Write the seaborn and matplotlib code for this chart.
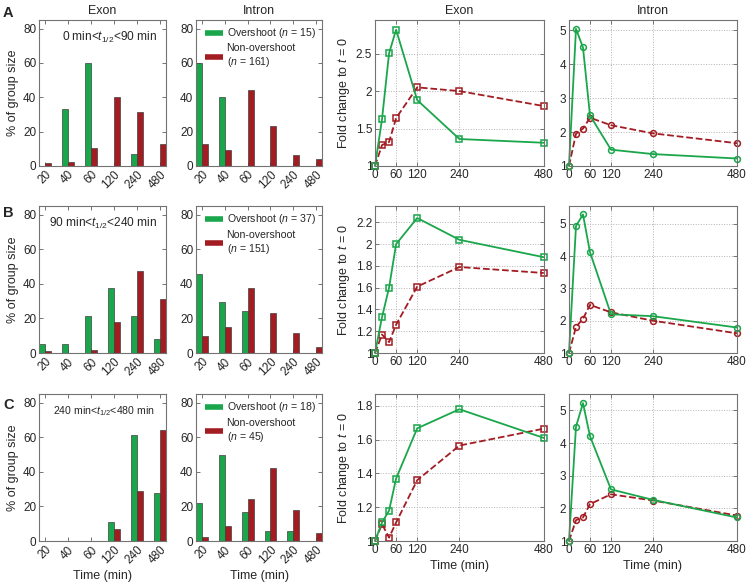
import numpy as np
import pandas as pd
import matplotlib
matplotlib.use('Agg')
import matplotlib.pyplot as plt
from matplotlib.lines import Line2D
from matplotlib.ticker import FuncFormatter
import seaborn as sns

sns.set_style('white')
plt.rcParams['font.family'] = ['Liberation Sans', 'DejaVu Sans']
plt.rcParams['mathtext.fontset'] = 'custom'
plt.rcParams['mathtext.rm'] = 'Liberation Sans'
plt.rcParams['mathtext.it'] = 'Liberation Sans:italic'

GREEN = '#1aa64b'
RED = '#a21c22'

# half-life bins (bar charts) and time points (line charts)
bins = ['20', '40', '60', '120', '240', '480']
times = [0, 20, 40, 60, 120, 240, 480]

# % of group size per bin
a_exon_over = [0, 33.3, 60.0, 0, 6.7, 0]
a_exon_non = [1.9, 2.5, 10.6, 40.4, 31.7, 13.0]
a_intron_over = [60.0, 40.0, 0, 0, 0, 0]
a_intron_non = [13.0, 9.3, 44.1, 23.0, 6.2, 4.3]
b_exon_over = [5.4, 5.4, 21.6, 37.8, 21.6, 8.1]
b_exon_non = [1.3, 0, 2.0, 17.9, 47.7, 31.1]
b_intron_over = [45.9, 29.7, 24.3, 0, 0, 0]
b_intron_non = [9.9, 15.2, 37.7, 23.2, 11.3, 3.5]
c_exon_over = [0, 0, 0, 11.1, 61.1, 27.8]
c_exon_non = [0, 0, 0, 6.7, 28.9, 64.4]
c_intron_over = [22.2, 50.0, 16.7, 5.6, 5.6, 0]
c_intron_non = [2.2, 8.9, 24.4, 42.2, 17.8, 4.4]

# fold change to t=0
fa_exon_over = [1.0, 1.625, 2.505, 2.82, 1.88, 1.36, 1.31]
fa_exon_non = [1.0, 1.28, 1.32, 1.64, 2.05, 2.0, 1.80]
fa_intron_over = [1.0, 5.04, 4.49, 2.49, 1.48, 1.35, 1.22]
fa_intron_non = [1.0, 1.95, 2.1, 2.42, 2.2, 1.96, 1.67]
fb_exon_over = [1.0, 1.33, 1.60, 2.0, 2.24, 2.04, 1.88]
fb_exon_non = [1.0, 1.17, 1.10, 1.26, 1.61, 1.79, 1.735]
fb_intron_over = [1.0, 4.93, 5.29, 4.12, 2.2, 2.14, 1.79]
fb_intron_non = [1.0, 1.81, 2.06, 2.49, 2.26, 2.0, 1.61]
fc_exon_over = [1.0, 1.11, 1.18, 1.37, 1.667, 1.78, 1.61]
fc_exon_non = [1.0, 1.10, 1.02, 1.11, 1.36, 1.565, 1.665]
fc_intron_over = [1.0, 4.5, 5.22, 4.21, 2.58, 2.26, 1.72]
fc_intron_non = [1.0, 1.64, 1.72, 2.13, 2.43, 2.24, 1.78]

ranges = ['0 min<$t_{1/2}$<90 min', '90 min<$t_{1/2}$<240 min', '240 min<$t_{1/2}$<480 min']
n_over = [15, 37, 18]
n_non = [161, 151, 45]

bar_data = [(a_exon_over, a_exon_non, a_intron_over, a_intron_non),
            (b_exon_over, b_exon_non, b_intron_over, b_intron_non),
            (c_exon_over, c_exon_non, c_intron_over, c_intron_non)]
line_data = [(fa_exon_over, fa_exon_non, fa_intron_over, fa_intron_non),
             (fb_exon_over, fb_exon_non, fb_intron_over, fb_intron_non),
             (fc_exon_over, fc_exon_non, fc_intron_over, fc_intron_non)]
exon_ylims = [(1, 2.95), (1, 2.35), (1, 1.87)]
exon_ticks = [[1, 1.5, 2, 2.5], [1, 1.2, 1.4, 1.6, 1.8, 2, 2.2], [1, 1.2, 1.4, 1.6, 1.8]]
intron_ylims = [(1, 5.3), (1, 5.55), (1, 5.5)]

fig = plt.figure(figsize=(7.47, 5.84), dpi=100)
row_bottom = [0.7158, 0.3955, 0.0736]
row_h = [0.25, 0.2517, 0.2517]
col_left = [0.0522, 0.2624, 0.502, 0.7617]
col_w = [0.170, 0.1687, 0.226, 0.2249]


def style_axes(ax):
    for s in ax.spines.values():
        s.set_color('0.45')
        s.set_linewidth(0.8)
    ax.tick_params(direction='in', length=3, width=0.7, bottom=True, left=True,
                   top=True, right=True, labelsize=8.5, color='0.45', pad=2)


def bar_panel(ax, over, non):
    df = pd.DataFrame({'bin': bins * 2, 'pct': over + non,
                       'group': ['Overshoot'] * 6 + ['Non-overshoot'] * 6})
    sns.barplot(data=df, x='bin', y='pct', hue='group', order=bins,
                hue_order=['Overshoot', 'Non-overshoot'],
                palette={'Overshoot': GREEN, 'Non-overshoot': RED},
                width=0.52, edgecolor='0.25', linewidth=0.5, saturation=1,
                errorbar=None, legend=False, ax=ax)
    ax.set_xlim(-0.26, 5.26)
    ax.set_ylim(0, 85)
    ax.set_yticks([0, 20, 40, 60, 80])
    style_axes(ax)
    plt.setp(ax.get_xticklabels(), rotation=45, ha='right', rotation_mode='anchor')
    ax.set_xlabel('')
    ax.set_ylabel('')


def line_panel(ax, over, non, marker):
    sns.lineplot(x=times, y=non, ax=ax, color=RED, linestyle='--', lw=1.3,
                 marker=marker, ms=4.2, mfc='none', mec=RED, mew=1.1, clip_on=False)
    sns.lineplot(x=times, y=over, ax=ax, color=GREEN, linestyle='-', lw=1.3,
                 marker=marker, ms=4.2, mfc='none', mec=GREEN, mew=1.1, clip_on=False)
    ax.set_xlim(0, 480)
    ax.set_xticks([0, 60, 120, 240, 480])
    ax.grid(True, linestyle=':', color='0.7', lw=0.7)
    ax.yaxis.set_major_formatter(FuncFormatter(lambda v, p: '{:g}'.format(round(v, 2))))
    style_axes(ax)


for r in range(3):
    axes = [fig.add_axes([col_left[c], row_bottom[r], col_w[c], row_h[r]]) for c in range(4)]
    eo, en, io, inn = bar_data[r]
    bar_panel(axes[0], eo, en)
    bar_panel(axes[1], io, inn)
    axes[0].set_ylabel('% of group size', fontsize=9, labelpad=3)
    axes[0].text(0.93 if r < 2 else 0.91, 0.93, ranges[r], transform=axes[0].transAxes,
                 ha='right', va='top', fontsize=8.6 if r < 2 else 7.6)
    handles = [Line2D([0], [0], color=GREEN, lw=4, solid_capstyle='butt'),
               Line2D([0], [0], color=RED, lw=4, solid_capstyle='butt')]
    labels = ['Overshoot ($n$ = %d)' % n_over[r], 'Non-overshoot\n($n$ = %d)' % n_non[r]]
    axes[1].legend(handles, labels, loc='upper right', frameon=False, fontsize=7.6,
                   handlelength=1.7, handletextpad=0.35, labelspacing=0.3,
                   borderaxespad=0.2)

    fo, fn, fio, fin = line_data[r]
    line_panel(axes[2], fo, fn, 's')
    axes[2].set_ylim(*exon_ylims[r])
    axes[2].set_yticks(exon_ticks[r])
    axes[2].set_ylabel('Fold change to $t$ = 0', fontsize=9, labelpad=3)
    line_panel(axes[3], fio, fin, 'o')
    axes[3].set_ylim(*intron_ylims[r])
    axes[3].set_yticks([1, 2, 3, 4, 5])

    if r == 0:
        for c, t in enumerate(['Exon', 'Intron', 'Exon', 'Intron']):
            axes[c].set_title(t, fontsize=9, pad=4)
    if r == 2:
        for ax in axes:
            ax.set_xlabel('Time (min)', fontsize=9, labelpad=3)

fig.text(0.004, 0.99, 'A', weight='bold', fontsize=10.5, va='top')
fig.text(0.004, 0.647, 'B', weight='bold', fontsize=10.5, va='top')
fig.text(0.004, 0.319, 'C', weight='bold', fontsize=10.5, va='top')

fig.savefig('out.png', dpi=100)
